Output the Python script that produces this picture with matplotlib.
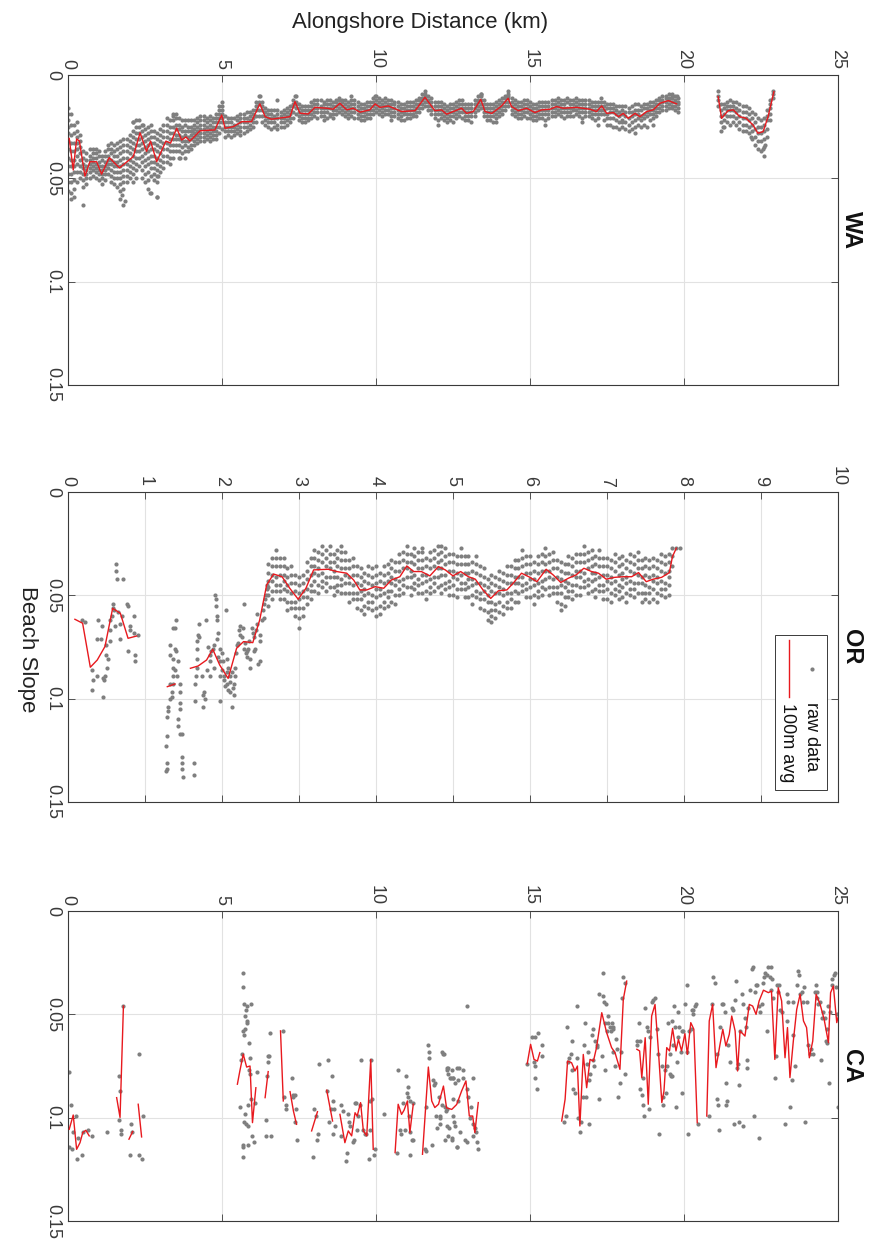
import matplotlib

matplotlib.use("Agg")
import matplotlib.pyplot as plt
import numpy as np
from matplotlib.patches import Rectangle

plt.rcParams["font.family"] = ["Liberation Sans", "DejaVu Sans"]

DOT = "#7f7f7f"
AVG = "#e8191e"
AX = "#3a3a3a"
GRID = "#e2e2e2"

# slopes below are in thousandths; rows are [km, slope, slope, ...]
WA_RAW = [
    [0.0, 16, 19, 22, 25, 28, 32, 36, 40, 44, 48, 52, 56], [0.1, 19, 24, 29, 33, 37, 41, 44, 48, 52, 57, 60],
    [0.2, 24, 28, 33, 37, 41, 44, 47, 51, 55, 59], [0.3, 23, 27, 30, 33, 36, 39, 43, 47, 52],
    [0.4, 29, 32, 35, 38, 41, 44, 47, 50], [0.5, 37, 40, 43, 45, 48, 51, 54, 63],
    [0.6, 38, 41, 44, 46, 48, 50, 53], [0.7, 36, 39, 41, 43, 45, 47, 50], [0.8, 36, 38, 40, 42, 44, 46, 49],
    [0.9, 36, 38, 40, 43, 45, 47, 50], [1.0, 37, 39, 42, 44, 46, 48, 51], [1.1, 39, 41, 44, 46, 48, 50, 53],
    [1.2, 37, 39, 42, 44, 46, 48, 51], [1.3, 34, 36, 39, 41, 43, 45, 48], [1.4, 33, 36, 38, 41, 43, 46, 49, 52],
    [1.5, 34, 37, 39, 42, 44, 47, 50, 53], [1.6, 33, 36, 39, 42, 44, 47, 50, 54],
    [1.7, 32, 35, 38, 41, 44, 47, 50, 53, 56, 60], [1.8, 31, 34, 37, 40, 43, 46, 49, 52, 55, 63],
    [1.9, 31, 34, 37, 40, 43, 46, 49, 52], [2.0, 29, 32, 35, 38, 41, 44, 47, 50],
    [2.1, 23, 27, 30, 33, 36, 39, 42, 45, 48, 52], [2.2, 22, 25, 28, 31, 34, 37, 40, 43, 46, 50],
    [2.3, 22, 25, 28, 31, 34, 37, 40, 44], [2.4, 24, 27, 30, 33, 36, 39, 42, 46, 50],
    [2.5, 26, 29, 32, 35, 38, 41, 44, 48, 52], [2.6, 25, 28, 31, 34, 37, 40, 43, 47, 51, 55],
    [2.7, 24, 27, 30, 33, 36, 39, 42, 45, 49, 57], [2.8, 27, 30, 33, 36, 39, 42, 45, 48, 51],
    [2.9, 28, 31, 34, 37, 40, 43, 46, 49, 52, 59], [3.0, 26, 29, 32, 35, 38, 41, 44, 47],
    [3.1, 24, 27, 30, 33, 36, 39, 42, 45], [3.2, 21, 24, 27, 30, 33, 36, 39, 42],
    [3.3, 22, 25, 28, 31, 34, 37, 40, 43], [3.4, 19, 22, 25, 28, 31, 34, 37, 40],
    [3.5, 19, 21, 24, 26, 29, 31, 34, 37], [3.6, 21, 24, 26, 29, 31, 34, 37, 40],
    [3.7, 22, 25, 27, 30, 32, 35, 38], [3.8, 22, 24, 27, 29, 32, 34, 37, 40],
    [3.9, 22, 25, 27, 30, 32, 35, 37], [4.0, 22, 25, 27, 29, 31, 34, 36],
    [4.1, 22, 24, 26, 28, 30, 32, 34], [4.2, 21, 23, 25, 27, 29, 31, 33],
    [4.3, 20, 22, 24, 26, 28, 30, 32], [4.4, 20, 22, 24, 26, 28, 30, 32],
    [4.5, 21, 23, 25, 27, 29, 31], [4.6, 20, 22, 24, 26, 28, 30, 32],
    [4.7, 21, 23, 25, 27, 29, 31], [4.8, 19, 21, 23, 25, 27, 29, 31],
    [4.9, 15, 17, 19, 21, 23, 25, 28], [5.0, 13, 15, 17, 19, 21, 23, 26],
    [5.1, 20, 23, 25, 27, 30], [5.2, 21, 23, 25, 27, 29], [5.3, 21, 23, 25, 27, 30],
    [5.4, 21, 24, 25, 27, 29], [5.5, 20, 22, 24, 26, 28], [5.6, 19, 21, 23, 25, 27, 29],
    [5.7, 19, 21, 23, 25, 28], [5.8, 18, 21, 23, 25, 27], [5.9, 18, 20, 22, 24, 26],
    [6.0, 17, 19, 21, 23, 25], [6.1, 13, 15, 17, 20, 23], [6.2, 10, 13, 14, 17, 20],
    [6.3, 13, 15, 17, 20, 23], [6.4, 16, 18, 20, 22, 24], [6.5, 17, 19, 21, 23, 25],
    [6.6, 17, 19, 21, 23, 26], [6.7, 17, 20, 21, 23, 25], [6.8, 12, 17, 19, 21, 24, 26],
    [6.9, 18, 20, 21, 23, 25], [7.0, 17, 19, 21, 23, 25], [7.1, 16, 18, 20, 22, 24],
    [7.2, 15, 17, 19, 21, 23], [7.3, 12, 14, 15, 18, 21], [7.4, 10, 13, 14, 16, 19],
    [7.5, 14, 16, 18, 20, 22], [7.6, 15, 17, 19, 21, 23], [7.7, 15, 17, 19, 21, 23],
    [7.8, 15, 17, 19, 21, 22], [7.9, 13, 15, 17, 19, 21], [8.0, 12, 14, 16, 18, 20],
    [8.1, 12, 14, 16, 18, 21], [8.2, 12, 15, 16, 18, 20], [8.3, 13, 14, 16, 18, 20, 22],
    [8.4, 12, 14, 16, 18, 21], [8.5, 12, 14, 16, 19, 20], [8.6, 13, 15, 17, 19, 21],
    [8.7, 12, 13, 15, 17, 19], [8.8, 11, 12, 14, 16, 18], [8.9, 12, 13, 15, 17, 19],
    [9.0, 12, 14, 16, 18, 20], [9.1, 13, 15, 17, 19, 21], [9.2, 10, 12, 14, 16, 18, 20],
    [9.3, 12, 14, 16, 18, 21], [9.4, 13, 15, 17, 19, 21], [9.5, 14, 16, 18, 20, 22],
    [9.6, 14, 16, 18, 20, 22], [9.7, 13, 15, 17, 19, 21], [9.8, 13, 15, 17, 19, 21],
    [9.9, 11, 13, 15, 17, 19], [10.0, 10, 12, 14, 16, 18], [10.1, 11, 13, 15, 17, 19],
    [10.2, 12, 14, 16, 18, 20], [10.3, 11, 13, 15, 17, 19], [10.4, 12, 14, 15, 17, 19],
    [10.5, 12, 14, 16, 18, 20, 22], [10.6, 13, 14, 16, 18, 20], [10.7, 13, 15, 17, 19, 21],
    [10.8, 14, 16, 18, 20, 22], [10.9, 14, 16, 18, 19, 22], [11.0, 13, 15, 17, 19, 21],
    [11.1, 13, 15, 17, 19, 21], [11.2, 13, 15, 17, 19, 20], [11.3, 12, 14, 16, 18, 20],
    [11.4, 11, 12, 14, 16, 18], [11.5, 9, 11, 12, 14, 16], [11.6, 8, 10, 11, 13, 15],
    [11.7, 10, 12, 13, 15, 17], [11.8, 11, 13, 15, 17, 19], [11.9, 13, 15, 17, 19, 21],
    [12.0, 13, 15, 17, 19, 22, 24], [12.1, 13, 15, 17, 19, 21], [12.2, 14, 16, 18, 20, 22],
    [12.3, 15, 17, 19, 21, 23], [12.4, 14, 16, 18, 20, 22], [12.5, 14, 16, 18, 20, 23],
    [12.6, 13, 15, 17, 19, 21], [12.7, 12, 14, 16, 18, 20], [12.8, 12, 14, 16, 18, 21],
    [12.9, 14, 16, 18, 20, 22], [13.0, 14, 16, 18, 20, 22], [13.1, 14, 16, 18, 20, 23],
    [13.2, 12, 14, 16, 18, 20], [13.3, 10, 12, 13, 15, 17], [13.4, 9, 10, 12, 14, 16],
    [13.5, 12, 14, 16, 18, 20], [13.6, 14, 16, 18, 20, 22], [13.7, 14, 16, 18, 20, 22],
    [13.8, 14, 16, 18, 20, 23], [13.9, 13, 15, 17, 19, 21, 23], [14.0, 12, 14, 16, 18, 20],
    [14.1, 11, 13, 15, 17, 19], [14.2, 10, 11, 13, 15, 17], [14.3, 8, 10, 11, 13, 15],
    [14.4, 11, 13, 15, 17, 19], [14.5, 12, 14, 16, 18, 20], [14.6, 13, 15, 17, 19, 21],
    [14.7, 13, 15, 17, 19, 21], [14.8, 12, 14, 16, 18, 20], [14.9, 12, 14, 16, 18, 21],
    [15.0, 13, 15, 17, 19, 21], [15.1, 14, 16, 18, 20, 22], [15.2, 14, 16, 18, 20, 22],
    [15.3, 13, 15, 17, 19, 21], [15.4, 13, 15, 17, 19, 21], [15.5, 13, 15, 17, 19, 22, 24],
    [15.6, 13, 15, 17, 19, 21], [15.7, 12, 14, 16, 18, 20], [15.8, 12, 14, 16, 18, 20],
    [15.9, 11, 13, 15, 17, 19], [16.0, 12, 14, 16, 18, 20], [16.1, 12, 14, 16, 18, 21],
    [16.2, 11, 13, 16, 18, 20], [16.3, 12, 14, 16, 18, 20], [16.4, 12, 14, 16, 17, 20],
    [16.5, 11, 13, 15, 17, 19], [16.6, 12, 14, 16, 18, 20], [16.7, 12, 14, 16, 18, 21, 23],
    [16.8, 12, 14, 16, 18, 20], [16.9, 12, 14, 16, 18, 20], [17.0, 13, 15, 17, 19, 21],
    [17.1, 13, 15, 17, 19, 22], [17.2, 13, 15, 17, 19, 21, 24], [17.3, 11, 13, 15, 17, 19],
    [17.4, 13, 15, 17, 19, 22], [17.5, 14, 16, 19, 21, 24], [17.6, 14, 16, 18, 21, 24],
    [17.7, 14, 16, 18, 21, 25], [17.8, 15, 17, 19, 22, 25], [17.9, 15, 18, 20, 23, 26],
    [18.0, 15, 17, 19, 22, 25], [18.1, 15, 18, 20, 23, 26], [18.2, 16, 18, 21, 24, 27],
    [18.3, 15, 18, 20, 23, 26], [18.4, 14, 17, 19, 22, 25, 28], [18.5, 14, 17, 19, 21, 24],
    [18.6, 15, 17, 20, 22, 25], [18.7, 14, 16, 19, 21, 24], [18.8, 14, 16, 18, 20, 25],
    [18.9, 13, 15, 17, 19, 22], [19.0, 13, 15, 17, 19, 21, 24], [19.1, 12, 14, 16, 18, 20],
    [19.2, 11, 12, 14, 16, 18], [19.3, 10, 12, 13, 15, 17], [19.4, 10, 11, 13, 15, 17],
    [19.5, 9, 11, 12, 14, 16], [19.6, 9, 10, 11, 13, 15, 16], [19.7, 10, 12, 13, 15, 17],
    [19.8, 11, 13, 14, 16, 18],
    [21.1, 8, 10, 12, 15], [21.2, 14, 17, 20, 23, 27], [21.3, 14, 16, 19, 22, 25],
    [21.4, 13, 15, 17, 20, 23], [21.5, 12, 15, 17, 20, 24], [21.6, 13, 15, 17, 20, 23],
    [21.7, 13, 16, 18, 21, 24], [21.8, 14, 17, 20, 23, 26], [21.9, 15, 18, 21, 24, 27],
    [22.0, 15, 18, 21, 24, 27], [22.1, 16, 19, 22, 25, 28], [22.2, 18, 21, 24, 27, 31],
    [22.3, 19, 23, 26, 30, 34], [22.4, 21, 25, 28, 32, 36], [22.5, 22, 25, 28, 32, 37],
    [22.6, 21, 24, 27, 31, 35, 39], [22.7, 17, 20, 22, 26, 30], [22.8, 12, 14, 16, 19, 22],
    [22.9, 8, 9, 11],
    # scattered points off the main band
    [1.75, 58], [1.85, 61], [2.12, 23], [2.44, 24], [2.88, 59], [2.93, 49], [3.42, 20],
    [3.64, 40], [4.02, 27], [2.66, 57], [6.23, 10], [7.36, 10], [9.97, 10], [11.6, 9],
    [13.4, 9], [14.3, 9], [18.0, 23], [19.76, 10], [21.27, 25], [22.18, 30], [22.58, 36],
    [22.62, 34],
]

WA_AVG = [
    [(0.04, 30.7), (0.17, 46), (0.28, 31), (0.37, 32), (0.55, 49), (0.71, 42), (0.93, 42),
     (1.09, 48), (1.34, 40), (1.67, 45), (2.12, 39.5), (2.34, 28), (2.55, 37), (2.68, 32),
     (2.88, 42), (3.18, 32), (3.33, 33), (3.53, 25.8), (3.69, 31.5), (3.83, 30), (3.96, 32),
     (4.29, 27), (4.77, 26.6), (4.99, 19.4), (5.10, 25.8), (5.37, 25), (5.64, 22.6),
     (5.96, 22.6), (6.23, 14), (6.40, 20.2), (6.61, 21.4), (7.21, 20.2), (7.37, 12.9),
     (7.53, 18.5), (7.80, 18.9), (8.02, 15.7), (8.40, 16.1), (8.61, 16.6), (8.83, 13.7),
     (9.05, 16.9), (9.26, 16.1), (9.48, 18), (9.80, 16.9), (9.97, 14), (10.13, 15.7),
     (10.40, 15), (10.83, 17.7), (11.27, 17.3), (11.59, 10.8), (11.91, 17.3), (12.13, 16.9),
     (12.29, 19), (12.51, 17.7), (12.78, 16.1), (12.94, 18.6), (13.16, 17.7), (13.40, 11.8),
     (13.54, 17.7), (13.76, 18.6), (14.08, 15), (14.29, 11.3), (14.40, 15.3), (14.62, 17.3),
     (14.89, 16.1), (15.16, 18.2), (15.38, 16.9), (15.65, 16.6), (15.86, 15.3), (16.08, 16.1),
     (16.52, 15.7), (16.95, 16.6), (17.16, 17.7), (17.33, 15), (17.49, 18.6), (17.71, 18.2),
     (17.87, 20.2), (18.03, 18.6), (18.19, 21), (18.41, 18.6), (18.57, 20.2), (18.79, 17.7),
     (19.00, 16.9), (19.22, 13.7), (19.49, 12.4), (19.76, 14)],
    [(21.11, 10.5), (21.22, 21), (21.43, 17.3), (21.60, 16.9), (21.81, 20.2), (22.02, 21),
     (22.24, 24.2), (22.40, 28.2), (22.57, 27.4), (22.73, 20.2), (22.92, 8.1)],
]

OR_RAW = [
    [0.18, 62], [0.22, 63], [0.31, 86, 96], [0.32, 91], [0.38, 89, 71], [0.39, 62], [0.44, 65],
    [0.43, 71], [0.45, 90], [0.46, 99], [0.47, 91], [0.48, 89], [0.49, 79], [0.50, 74],
    [0.51, 85], [0.52, 81], [0.54, 72], [0.55, 67, 62], [0.57, 60], [0.58, 56], [0.59, 54],
    [0.60, 57], [0.61, 65], [0.62, 35], [0.63, 38], [0.64, 42], [0.65, 58], [0.67, 71],
    [0.68, 64], [0.71, 42], [0.70, 60], [0.76, 54], [0.78, 55, 77], [0.80, 65, 67],
    [0.86, 60, 68], [0.87, 79, 82], [0.91, 69],
    [1.27, 135, 123], [1.28, 134, 131, 118], [1.29, 109], [1.30, 106, 104], [1.32, 100, 93, 79, 74],
    [1.35, 97, 99], [1.36, 93], [1.37, 89, 85, 81, 66], [1.39, 86, 76, 66], [1.40, 77, 62],
    [1.42, 89], [1.43, 82, 113, 110], [1.45, 102, 97, 105], [1.46, 93, 117], [1.48, 117, 128, 131, 134],
    [1.49, 138],
    [1.64, 131, 137], [1.65, 101, 93], [1.66, 89], [1.67, 85, 81, 76, 72], [1.69, 69], [1.70, 70, 64],
    [1.74, 89], [1.75, 98, 104], [1.77, 97], [1.78, 100], [1.79, 62], [1.80, 86], [1.82, 75],
    [1.84, 79, 89], [1.85, 82], [1.86, 77], [1.88, 76], [1.89, 74], [1.90, 85], [1.91, 50],
    [1.92, 52, 55], [1.93, 60], [1.94, 62, 71], [1.95, 68, 80], [1.97, 82, 89, 101], [1.98, 76],
    [2.00, 78, 86], [2.01, 82], [2.02, 89], [2.03, 91], [2.04, 94], [2.05, 57], [2.06, 81, 87],
    [2.07, 93], [2.08, 85, 96], [2.10, 97, 89], [2.11, 92], [2.13, 104, 87], [2.14, 95],
    [2.16, 98, 93], [2.17, 89, 85], [2.18, 78], [2.19, 74], [2.21, 73], [2.22, 67], [2.23, 69],
    [2.24, 65], [2.26, 70], [2.27, 66], [2.28, 54], [2.29, 76], [2.30, 73], [2.31, 78],
    [2.32, 77], [2.33, 80], [2.34, 76], [2.35, 72], [2.36, 81], [2.37, 85], [2.39, 66],
    [2.40, 68], [2.41, 70], [2.42, 77], [2.43, 76], [2.44, 67], [2.45, 59], [2.46, 64],
    [2.47, 83], [2.49, 82, 69], [2.50, 72], [2.52, 62], [2.53, 57], [2.54, 61], [2.55, 54],
    [2.56, 52], [2.57, 50], [2.58, 47], [2.59, 45],
    [2.60, 35, 39, 43, 46, 50, 55], [2.65, 32, 36, 40, 43, 48, 52], [2.70, 28, 32, 36, 41, 45, 48],
    [2.75, 32, 36, 40, 45, 48, 52], [2.80, 32, 36, 40, 43, 47, 52], [2.85, 37, 41, 45, 48, 53, 57],
    [2.90, 36, 40, 44, 49, 53, 56], [2.95, 40, 44, 48, 53, 56, 60], [3.00, 41, 45, 49, 52, 56, 61, 66],
    [3.05, 40, 44, 48, 51, 56, 60], [3.10, 34, 38, 42, 47, 51, 54], [3.15, 32, 36, 40, 45, 48, 52],
    [3.20, 28, 32, 36, 39, 43, 48], [3.25, 29, 33, 37, 40, 45, 49], [3.30, 26, 30, 34, 39, 43, 46],
    [3.35, 28, 32, 36, 41, 44, 48], [3.40, 26, 30, 34, 37, 41, 46], [3.45, 30, 34, 38, 41, 46, 50],
    [3.50, 28, 32, 36, 41, 45, 48], [3.55, 26, 29, 33, 37, 42, 45, 49], [3.60, 29, 33, 37, 40, 44, 49],
    [3.65, 33, 37, 41, 44, 49, 53], [3.70, 32, 36, 40, 45, 49, 52], [3.75, 36, 40, 44, 49, 52, 56],
    [3.80, 37, 41, 45, 48, 52, 57], [3.85, 39, 43, 47, 50, 55, 59], [3.90, 36, 40, 44, 49, 53, 56],
    [3.95, 37, 41, 45, 50, 53, 57], [4.00, 36, 40, 44, 47, 51, 56, 60], [4.05, 39, 43, 47, 50, 55, 59],
    [4.10, 36, 40, 44, 49, 53, 56], [4.15, 35, 39, 43, 48, 51, 55], [4.20, 33, 37, 41, 44, 48, 53],
    [4.25, 34, 38, 42, 45, 50, 54], [4.30, 30, 34, 38, 43, 47, 50], [4.35, 29, 33, 37, 42, 45, 49],
    [4.40, 26, 30, 34, 37, 41, 46], [4.45, 30, 34, 38, 41, 46, 50], [4.50, 27, 31, 35, 40, 44, 47],
    [4.55, 29, 33, 37, 42, 45, 49], [4.60, 27, 29, 33, 37, 40, 44, 49], [4.65, 32, 36, 40, 43, 48, 52],
    [4.70, 29, 33, 37, 42, 46, 49], [4.75, 28, 32, 36, 41, 44, 48], [4.80, 26, 30, 34, 37, 41, 46],
    [4.85, 26, 29, 33, 37, 40, 45, 49], [4.90, 27, 31, 35, 40, 44, 47], [4.95, 30, 34, 38, 43, 46, 50],
    [5.00, 30, 34, 38, 41, 45, 50], [5.05, 31, 35, 39, 42, 47, 51], [5.10, 27, 31, 35, 40, 44, 47],
    [5.15, 31, 35, 39, 44, 47, 51], [5.20, 31, 35, 39, 42, 46, 51], [5.25, 34, 38, 42, 45, 50, 54],
    [5.30, 31, 35, 39, 44, 48, 51], [5.35, 36, 40, 44, 49, 52, 56], [5.40, 37, 41, 45, 48, 52, 57],
    [5.45, 42, 46, 50, 53, 58, 62], [5.50, 40, 44, 48, 53, 57, 60, 63], [5.55, 41, 45, 49, 54, 57, 61],
    [5.60, 38, 42, 46, 49, 53, 58], [5.65, 39, 43, 47, 50, 55, 59], [5.70, 36, 40, 44, 49, 53, 56],
    [5.75, 36, 40, 44, 49, 52, 56], [5.80, 33, 37, 41, 44, 48, 53], [5.85, 33, 37, 41, 44, 49, 53],
    [5.90, 28, 32, 36, 41, 45, 48], [5.95, 31, 35, 39, 44, 47, 51], [6.00, 31, 35, 39, 42, 46, 51],
    [6.05, 34, 38, 42, 45, 50, 54], [6.10, 31, 35, 39, 44, 48, 51], [6.15, 30, 34, 38, 43, 46, 50],
    [6.20, 27, 31, 35, 38, 42, 47], [6.25, 30, 34, 38, 41, 46, 50], [6.30, 29, 33, 37, 42, 46, 49],
    [6.35, 33, 37, 41, 46, 49, 53], [6.40, 34, 38, 42, 45, 49, 54, 57], [6.45, 35, 39, 43, 46, 51, 55],
    [6.50, 31, 35, 39, 44, 48, 51], [6.55, 32, 36, 40, 45, 48, 52], [6.60, 30, 34, 38, 41, 45, 50],
    [6.65, 30, 34, 38, 41, 46, 50], [6.70, 26, 30, 34, 39, 43, 46], [6.75, 29, 33, 37, 42, 45, 49],
    [6.80, 28, 32, 36, 39, 43, 48], [6.85, 31, 35, 39, 42, 47, 51], [6.90, 28, 32, 36, 41, 45, 48],
    [6.95, 32, 36, 40, 45, 48, 52], [7.00, 32, 36, 40, 43, 47, 52], [7.05, 33, 37, 41, 44, 49, 53],
    [7.10, 30, 34, 38, 43, 47, 50], [7.15, 32, 36, 40, 45, 48, 52], [7.20, 31, 35, 39, 42, 46, 51],
    [7.25, 33, 37, 41, 44, 49, 53], [7.30, 30, 34, 38, 43, 47, 50], [7.35, 31, 35, 39, 44, 47, 51],
    [7.40, 29, 33, 37, 40, 44, 49], [7.45, 33, 37, 41, 44, 49, 53], [7.50, 32, 36, 40, 45, 49, 52],
    [7.55, 33, 37, 41, 46, 49, 53], [7.60, 32, 36, 40, 43, 47, 52], [7.65, 33, 37, 41, 44, 49, 53],
    [7.70, 30, 34, 38, 43, 47, 50], [7.75, 31, 35, 39, 44, 47, 51], [7.80, 30, 34, 38, 41, 45, 50],
    [7.85, 27, 31, 36], [7.90, 27], [7.95, 27],
]

OR_AVG = [
    [(0.09, 61.6), (0.19, 63.5), (0.29, 84.8), (0.38, 81.3), (0.48, 74.8), (0.58, 56.3),
     (0.68, 58.7), (0.78, 70.8), (0.89, 69.7)],
    [(1.29, 94.2), (1.39, 92.9)],
    [(1.59, 85.3), (1.69, 84.2), (1.80, 81.3), (1.88, 76.1), (1.97, 83.7), (2.08, 90.2),
     (2.19, 75.6), (2.28, 72.4), (2.40, 72.9), (2.49, 61.9), (2.58, 45.0), (2.67, 39.7),
     (2.78, 41.0), (2.88, 46.6), (2.99, 51.9), (3.09, 46.6), (3.19, 37.7), (3.38, 37.4),
     (3.49, 38.5), (3.62, 39.3), (3.71, 42.6), (3.79, 47.4), (3.88, 47.4), (3.99, 45.8),
     (4.10, 46.6), (4.20, 42.6), (4.31, 41.0), (4.40, 35.8), (4.49, 38.5), (4.59, 38.5),
     (4.70, 40.6), (4.81, 36.1), (4.90, 37.7), (5.00, 40.6), (5.10, 38.5), (5.20, 41.0),
     (5.29, 42.2), (5.39, 47.4), (5.49, 51.5), (5.59, 47.8), (5.70, 47.4), (5.78, 44.2),
     (5.89, 39.3), (6.00, 41.3), (6.09, 43.4), (6.21, 37.4), (6.30, 40.1), (6.40, 43.8),
     (6.50, 41.7), (6.60, 40.1), (6.70, 36.9), (6.80, 38.5), (6.89, 39.3), (6.99, 42.2),
     (7.10, 41.3), (7.21, 41.0), (7.32, 41.0), (7.41, 39.0), (7.51, 43.4), (7.60, 42.2),
     (7.71, 41.3), (7.81, 39.0), (7.85, 31.3), (7.90, 27.2)],
]

CA_RAW = [
    [0.04, 78, 114], [0.09, 94], [0.12, 115], [0.15, 107], [0.26, 99], [0.30, 120], [0.33, 110],
    [0.44, 118], [0.50, 107], [0.66, 106], [0.77, 109], [1.26, 107],
    [1.65, 101], [1.67, 80], [1.69, 87], [1.71, 106, 108], [1.80, 46], [2.01, 118], [2.04, 103],
    [2.07, 107], [2.29, 69], [2.32, 118], [2.39, 120], [2.42, 99],
    [5.58, 95], [5.61, 72], [5.64, 69], [5.67, 30, 58, 113, 119], [5.69, 37, 114], [5.71, 60],
    [5.72, 45, 102], [5.74, 51, 98], [5.76, 57], [5.77, 48], [5.78, 103], [5.80, 53],
    [5.82, 54, 46], [5.85, 94, 104, 113], [5.88, 64], [5.89, 77], [5.91, 71, 79], [5.93, 45, 91],
    [5.99, 109], [6.05, 112], [6.07, 93], [6.13, 78],
    [6.42, 109], [6.43, 101], [6.45, 80], [6.50, 73], [6.51, 70], [6.54, 70], [6.56, 59], [6.58, 109],
    [6.97, 58], [7.01, 90], [7.07, 94], [7.08, 96], [7.26, 81], [7.29, 90], [7.32, 89],
    [7.37, 89, 102], [7.40, 96], [7.42, 111],
    [7.94, 119], [7.98, 96], [8.05, 99], [8.07, 111], [8.11, 108], [8.16, 74], [8.42, 87],
    [8.45, 72], [8.48, 102], [8.53, 96], [8.56, 80], [8.59, 92], [8.61, 108], [8.65, 96], [8.67, 104],
    [8.85, 94], [8.88, 109], [8.92, 97], [9.03, 121], [9.07, 117], [9.10, 98], [9.13, 102],
    [9.16, 104], [9.24, 112], [9.29, 111], [9.32, 93], [9.35, 93], [9.37, 106], [9.43, 99],
    [9.48, 94], [9.50, 72], [9.57, 106], [9.65, 108], [9.68, 108], [9.76, 120], [9.79, 92],
    [9.80, 106], [9.84, 72], [9.86, 91], [9.93, 118], [9.97, 115],
    [10.26, 98], [10.69, 117], [10.72, 77], [10.78, 106], [10.80, 108], [10.87, 93], [10.94, 106],
    [10.98, 80], [11.00, 88], [11.05, 85, 90], [11.08, 99], [11.10, 92, 107], [11.12, 118],
    [11.16, 111], [11.19, 111], [11.21, 93],
    [11.59, 115], [11.62, 116], [11.64, 95], [11.70, 65], [11.72, 71], [11.73, 68], [11.83, 113],
    [11.84, 82], [11.88, 84], [11.91, 83], [11.95, 99], [11.97, 105], [12.06, 90],
    [12.08, 100, 99, 103], [12.13, 68, 94], [12.19, 69], [12.21, 69], [12.24, 111], [12.25, 95],
    [12.27, 97], [12.29, 77, 76, 96], [12.32, 104], [12.35, 76, 79, 109], [12.38, 105],
    [12.40, 81], [12.42, 81], [12.46, 110, 77, 111], [12.49, 81], [12.51, 99, 81, 91],
    [12.53, 102], [12.56, 83, 104], [12.62, 76, 114], [12.64, 114], [12.67, 92, 82], [12.71, 76],
    [12.73, 107], [12.84, 77, 81], [12.89, 111], [12.94, 112, 46], [12.96, 86], [12.99, 90],
    [13.05, 100], [13.10, 95], [13.16, 81, 103, 109], [13.21, 105], [13.24, 107], [13.27, 112],
    [13.32, 115],
    [14.91, 74], [15.05, 61], [15.13, 73], [15.16, 61, 75, 81], [15.24, 86], [15.27, 59],
    [15.38, 65, 70],
    [16.10, 102], [16.17, 99], [16.19, 56], [16.24, 73], [16.28, 71], [16.32, 69], [16.35, 63],
    [16.38, 77], [16.41, 86], [16.46, 88], [16.52, 71], [16.54, 46], [16.57, 100], [16.62, 107],
    [16.65, 102], [16.71, 90], [16.76, 65], [16.80, 54], [16.83, 90], [16.84, 74], [16.87, 68],
    [16.90, 82], [16.93, 103], [16.95, 79], [17.00, 60], [17.04, 57], [17.06, 72], [17.08, 75],
    [17.11, 63], [17.16, 65], [17.19, 66], [17.25, 91, 40], [17.33, 70], [17.36, 30], [17.38, 41],
    [17.40, 44], [17.43, 54, 77], [17.46, 45], [17.49, 58], [17.54, 51, 54], [17.60, 56],
    [17.62, 58], [17.65, 54], [17.68, 56], [17.70, 57, 68], [17.76, 75], [17.79, 62], [17.81, 67],
    [17.87, 90], [17.92, 83], [17.95, 68], [17.98, 42], [18.03, 32], [18.08, 35, 79],
    [18.47, 63], [18.49, 65], [18.53, 54], [18.56, 86], [18.58, 63], [18.63, 89], [18.66, 81],
    [18.68, 94], [18.70, 99], [18.74, 47], [18.79, 56], [18.84, 58], [18.87, 96], [18.89, 61],
    [18.95, 44], [19.00, 43], [19.06, 42], [19.11, 57], [19.17, 69], [19.20, 108], [19.28, 75],
    [19.31, 90], [19.33, 94], [19.39, 77], [19.42, 88], [19.44, 75], [19.49, 54], [19.53, 69],
    [19.55, 79], [19.57, 80], [19.60, 80, 53], [19.63, 65], [19.66, 46], [19.71, 56], [19.74, 95],
    [19.76, 73], [19.79, 61], [19.82, 49], [19.85, 56], [19.89, 68], [19.92, 58], [19.95, 88],
    [19.97, 58], [20.03, 45], [20.09, 36], [20.11, 68], [20.14, 108], [20.17, 58], [20.22, 57],
    [20.25, 48], [20.28, 48], [20.30, 50], [20.36, 46], [20.39, 45], [20.47, 103],
    [20.82, 99], [20.90, 45], [20.95, 32], [21.01, 35], [21.06, 69], [21.08, 91], [21.11, 94],
    [21.15, 106], [21.17, 56], [21.22, 45], [21.28, 45], [21.33, 49], [21.36, 83], [21.38, 94],
    [21.41, 92], [21.44, 65], [21.49, 73], [21.55, 47], [21.60, 48], [21.63, 103], [21.66, 43],
    [21.69, 34], [21.71, 76], [21.74, 74], [21.77, 102], [21.80, 84], [21.82, 58], [21.87, 40],
    [21.90, 104], [21.93, 45], [21.98, 52], [22.01, 56], [22.03, 72], [22.06, 76], [22.09, 47],
    [22.14, 38], [22.20, 28], [22.25, 27], [22.27, 99], [22.31, 39], [22.34, 36], [22.38, 36],
    [22.42, 110], [22.44, 46], [22.47, 49], [22.52, 45], [22.55, 35], [22.60, 32], [22.63, 30],
    [22.68, 58], [22.70, 31], [22.74, 27], [22.79, 32], [22.81, 27], [22.84, 38], [22.87, 33],
    [22.90, 42], [22.95, 81], [22.99, 70], [23.01, 36], [23.06, 39], [23.09, 36], [23.11, 48],
    [23.19, 49], [23.28, 103], [23.33, 40], [23.36, 53], [23.39, 44], [23.44, 95], [23.50, 82],
    [23.53, 60], [23.55, 44], [23.61, 75], [23.66, 36], [23.71, 29], [23.74, 31], [23.77, 40],
    [23.82, 39], [23.88, 44], [23.90, 37], [23.93, 102], [23.98, 44], [24.03, 65], [24.09, 69],
    [24.14, 67], [24.20, 69], [24.25, 39], [24.28, 36], [24.31, 42], [24.33, 39], [24.36, 45],
    [24.42, 44], [24.44, 72], [24.47, 52], [24.52, 49], [24.58, 52], [24.61, 63], [24.63, 57],
    [24.65, 64], [24.69, 46], [24.72, 83], [24.74, 49], [24.79, 36], [24.82, 33], [24.87, 31],
    [24.90, 30], [24.93, 37], [24.96, 50], [24.99, 95],
]

CA_AVG = [
    [(0.04, 105.6), (0.17, 98.7), (0.28, 115.3), (0.39, 112.1), (0.48, 107.2), (0.58, 106.1),
     (0.69, 108.8)],
    [(1.58, 90.3), (1.69, 99.9), (1.80, 46.0)],
    [(1.98, 110.4), (2.10, 106.7)],
    [(2.28, 93.5), (2.39, 109.3)],
    [(5.50, 83.8), (5.58, 77.4), (5.69, 69.3), (5.80, 75.5), (5.91, 75.0), (5.99, 102.4),
     (6.10, 85.5)],
    [(6.40, 90.3), (6.50, 77.7)],
    [(6.90, 58.0), (6.99, 91.9)],
    [(7.21, 87.4), (7.32, 96.8), (7.42, 103.2)],
    [(7.91, 106.4), (8.10, 97.1)],
    [(8.40, 86.7), (8.59, 101.6)],
    [(8.83, 98.4), (8.99, 112.1), (9.10, 106.4), (9.21, 108.8), (9.32, 97.6), (9.39, 99.2),
     (9.50, 92.7), (9.59, 106.4), (9.70, 108.8), (9.83, 71.8), (9.91, 115.3)],
    [(10.62, 116.9), (10.72, 93.5), (10.83, 98.4), (10.91, 96.4), (11.02, 91.9), (11.10, 107.2),
     (11.21, 93.5)],
    [(11.51, 117.7), (11.70, 75.5), (11.81, 91.9), (11.91, 95.1), (12.03, 93.5), (12.19, 84.7),
     (12.29, 95.2), (12.46, 96.0), (12.62, 93.6), (12.78, 87.1), (12.92, 82.2), (13.03, 99.2),
     (13.14, 99.2), (13.21, 107.2), (13.32, 92.7)],
    [(14.91, 73.9), (15.02, 64.5), (15.13, 71.8), (15.24, 72.6), (15.32, 68.5)],
    [(16.03, 101.6), (16.14, 91.1), (16.22, 72.6), (16.35, 73.4), (16.46, 77.4), (16.54, 75.0),
     (16.62, 104.0), (16.73, 69.4), (16.84, 85.5), (16.95, 71.8), (17.06, 72.6), (17.16, 66.1),
     (17.33, 49.2), (17.49, 58.9), (17.65, 66.1), (17.76, 68.5), (17.92, 76.6), (18.03, 42.7),
     (18.14, 33.9)],
    [(18.47, 66.9), (18.56, 67.7), (18.63, 80.6), (18.74, 61.3), (18.84, 93.5), (18.95, 50.8),
     (19.06, 45.2), (19.17, 67.7), (19.28, 92.7), (19.35, 87.1), (19.44, 66.1), (19.53, 67.7),
     (19.63, 56.8), (19.74, 67.7), (19.82, 62.1), (19.92, 67.7), (20.03, 59.3), (20.11, 69.4),
     (20.22, 54.0), (20.32, 57.2), (20.43, 102.4)],
    [(20.74, 99.2), (20.82, 53.2), (20.93, 45.2), (21.04, 75.8), (21.17, 64.5), (21.26, 57.2),
     (21.36, 65.3), (21.47, 59.7), (21.55, 50.8), (21.66, 58.0), (21.74, 77.4), (21.82, 58.0),
     (21.98, 60.5), (22.12, 45.2), (22.23, 46.0), (22.34, 50.0), (22.44, 43.5), (22.58, 38.3),
     (22.74, 39.5), (22.84, 38.7), (22.95, 71.8), (23.06, 37.1), (23.17, 43.5), (23.28, 71.0),
     (23.36, 56.4), (23.44, 80.6), (23.55, 62.9), (23.66, 47.6), (23.77, 40.3), (23.88, 53.2),
     (23.98, 56.4), (24.07, 71.0), (24.18, 62.9), (24.29, 40.3), (24.42, 45.2), (24.55, 52.4),
     (24.69, 63.7), (24.76, 39.5), (24.85, 36.3), (24.96, 54.0), (25.0, 51.6)],
]

PANELS = ["WA", "OR", "CA"]
X_MAX = [25, 10, 25]
X_STEP = [5, 1, 5]
Y_TICKS = [0, 0.05, 0.1, 0.15]
Y_TICK_LABELS = ["0", "0.05", "0.1", "0.15"]


def unpack_rows(rows):
    xs, ys = [], []
    for row in rows:
        for v in row[1:]:
            xs.append(row[0])
            ys.append(v / 1000.0)
    return np.array(xs), np.array(ys)


def draw_panel(ax, raw, avg, name, xmax, xstep):
    x, y = unpack_rows(raw)
    ax.plot(x, y, "o", color=DOT, ms=3.0, mew=0, zorder=2)
    for seg in avg:
        sx, sy = zip(*seg)
        ax.plot(sx, np.array(sy) / 1000.0, color=AVG, lw=1.0, zorder=3)

    ax.set_xlim(0, xmax)
    ax.set_ylim(0.15, 0)
    xt = np.arange(0, xmax + xstep / 2, xstep)
    ax.set_xticks(xt)
    ax.set_xticklabels([f"{v:g}" for v in xt])
    ax.set_yticks(Y_TICKS)
    ax.set_yticklabels(Y_TICK_LABELS)
    ax.xaxis.tick_top()
    ax.tick_params(axis="both", direction="in", length=5, width=0.6, colors=AX,
                   labelsize=13, top=True, bottom=True, left=True, right=True,
                   labeltop=True, labelbottom=False, labelleft=True, labelright=False)
    for lab in ax.get_xticklabels(which="both"):
        lab.set_rotation(-90)
        lab.set_ha("center")
        lab.set_va("bottom")
    for lab in ax.get_yticklabels():
        lab.set_rotation(-90)
        lab.set_ha("right")
        lab.set_va("center")
    ax.tick_params(axis="x", pad=4)
    ax.tick_params(axis="y", pad=5)
    ax.grid(True, color=GRID, lw=0.8)
    ax.set_axisbelow(True)
    for s in ax.spines.values():
        s.set_color(AX)
        s.set_linewidth(0.8)
    ax.text(1.018, 0.5, name, transform=ax.transAxes, rotation=-90, ha="center",
            va="center", fontsize=17, fontweight="bold", color="#111111")


def draw_legend(ax):
    ax.add_patch(Rectangle((0.918, 0.039), 0.068, 0.500, transform=ax.transAxes,
                           facecolor="white", edgecolor=AX, lw=0.7, zorder=5))
    ax.plot([0.966], [0.429], "o", color=DOT, ms=3.0, mew=0, transform=ax.transAxes, zorder=6)
    ax.text(0.966, 0.323, "raw data", transform=ax.transAxes, rotation=-90, ha="center",
            va="top", fontsize=13, color="#111111", zorder=6)
    ax.plot([0.936, 0.936], [0.523, 0.339], color=AVG, lw=1.0, transform=ax.transAxes, zorder=6)
    ax.text(0.934, 0.319, "100m avg", transform=ax.transAxes, rotation=-90, ha="center",
            va="top", fontsize=13, color="#111111", zorder=6)


fig = plt.figure(figsize=(8.75, 12.49), dpi=100)
fig.patch.set_facecolor("white")
bottoms = [0.6918, 0.3579, 0.0224]
data = [(WA_RAW, WA_AVG), (OR_RAW, OR_AVG), (CA_RAW, CA_AVG)]
axes = []
for i, name in enumerate(PANELS):
    ax = fig.add_axes([0.0777, bottoms[i], 0.88, 0.2482])
    draw_panel(ax, data[i][0], data[i][1], name, X_MAX[i], X_STEP[i])
    axes.append(ax)
draw_legend(axes[1])

fig.text(0.48, 0.982, "Alongshore Distance (km)", ha="center", va="center", fontsize=16,
         color="#222222")
fig.text(0.031, 0.480, "Beach Slope", rotation=-90, ha="center", va="center", fontsize=16,
         color="#222222")

fig.savefig("out.png", dpi=100, facecolor="white")
